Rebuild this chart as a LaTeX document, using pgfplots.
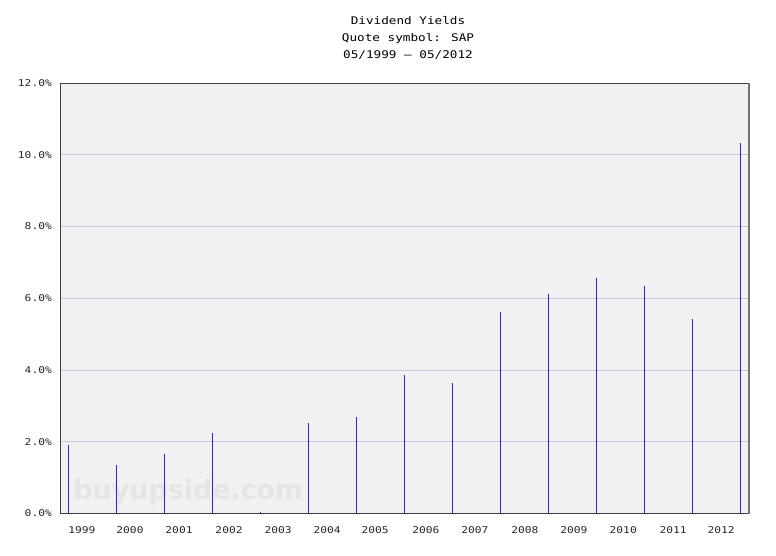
\documentclass[border=0pt]{standalone}
\usepackage{pgfplots}
\pgfplotsset{compat=1.18}
\usepackage{fontspec}
\newfontfamily\monofont[FakeStretch=1.2]{DejaVu Sans Mono}
\newfontfamily\wmfont{DejaVu Sans}
\definecolor{plotbg}{HTML}{F1F1F1}
\definecolor{gridc}{HTML}{C8C8E6}
\definecolor{spike}{HTML}{2020FF}
\definecolor{wm}{HTML}{E5E5E5}
\begin{document}
\begin{tikzpicture}
\path[use as bounding box] (0,0) rectangle (776bp,556bp);
\node[anchor=base, font=\monofont\fontsize{10.6}{12}\selectfont, text=black] at (408bp,531bp) {Dividend Yields};
\node[anchor=base, font=\monofont\fontsize{10.6}{12}\selectfont, text=black] at (408bp,514.3bp) {Quote symbol: SAP};
\node[anchor=base, font=\monofont\fontsize{10.6}{12}\selectfont, text=black] at (408bp,497.7bp) {05/1999 – 05/2012};
\begin{axis}[
  at={(60bp,42.5bp)}, anchor=south west,
  scale only axis, width=689bp, height=430.5bp,
  xmin=-0.173, xmax=14.18,
  ymin=0, ymax=12,
  axis background/.style={fill=plotbg},
  axis line style={draw=black!75, line width=0.9bp},
  ytick={0,2,4,6,8,10,12},
  ymajorgrids, grid style={gridc, line width=0.8bp},
  major tick length=0pt,
  /pgf/number format/assume math mode=true,
  yticklabel={\pgfmathprintnumber[fixed,fixed zerofill,precision=1]{\tick}\%},
  yticklabel style={font=\monofont\fontsize{9.4}{11}\selectfont, text=black!85, anchor=east, inner sep=0pt, xshift=-8bp},
  xtick={0.285,1.285,2.306,3.348,4.369,5.39,6.39,7.45,8.47,9.51,10.53,11.56,12.6,13.6},
  xticklabels={1999,2000,2001,2002,2003,2004,2005,2006,2007,2008,2009,2010,2011,2012},
  xticklabel style={font=\monofont\fontsize{9.4}{11}\selectfont, text=black!85, anchor=north, inner sep=0pt, yshift=-12.5bp},
  clip=false,
]
\node[font=\wmfont\bfseries\fontsize{27}{30}\selectfont, text=wm, anchor=base] at (axis cs:2.5,0.38) {buyupside.com};
\addplot[ycomb, draw=spike, line width=1.1bp, mark=none] coordinates {
(0,1.91) (1,1.36) (2,1.67) (3,2.25) (4,0.03) (5,2.53) (6,2.70) (7,3.85)
(8,3.64) (9,5.61) (10,6.13) (11,6.57) (12,6.35) (13,5.43) (14,10.33)
};
\draw[black!55, line width=1.6bp] (rel axis cs:1,0) -- (rel axis cs:1,1);
\end{axis}
\end{tikzpicture}
\end{document}
